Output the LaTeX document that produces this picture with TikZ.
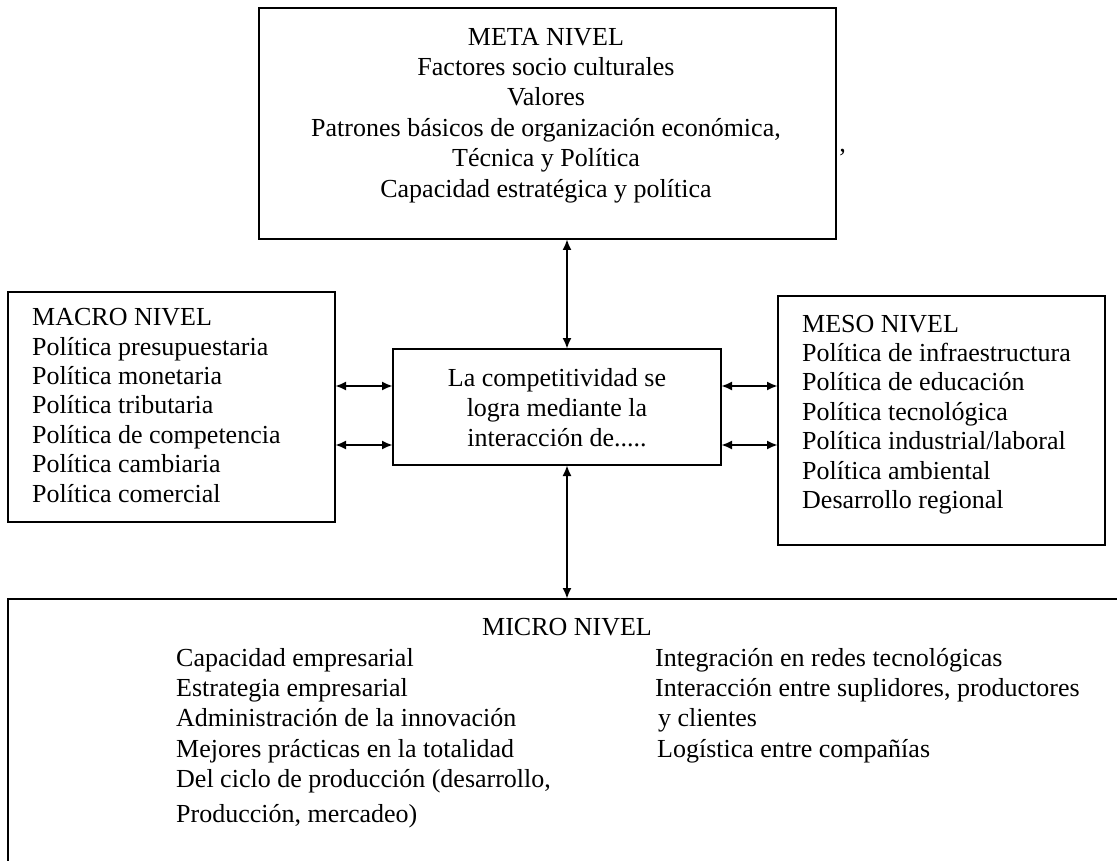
\documentclass[tikz,border=0pt]{standalone}
\usepackage{fontspec}
\setmainfont{Liberation Serif}
\usetikzlibrary{arrows.meta}

\begin{document}
\begin{tikzpicture}[x=1pt,y=-1pt,
  box/.style={draw,line width=1.8pt,inner sep=0pt,outer sep=0pt,anchor=north west},
  txt/.style={inner sep=0pt,align=left,anchor=north west,font=\fontsize{26}{29.4}\selectfont},
  link/.style={line width=2.5pt,{Latex[length=11pt,width=9pt]}-{Latex[length=11pt,width=9pt]}}]
  \useasboundingbox (0,0) rectangle (1117,861);
  \clip (0,0) rectangle (1117,861);

  \node[box, minimum width=577, minimum height=231] (meta) at (259,8) {};
  \node[box, minimum width=327, minimum height=230] (macro) at (8,292) {};
  \node[box, minimum width=328, minimum height=116] (hub) at (393,349) {};
  \node[box, minimum width=327, minimum height=249] (meso) at (778,296) {};
  \node[box, minimum width=1200, minimum height=400] (micro) at (8,599) {};

  \node[txt, align=center, anchor=north, font=\fontsize{26}{30.4}\selectfont] (metatxt) at (546,23.7)
    {\strut META NIVEL\\Factores socio culturales\\Valores\\
     Patrones básicos de organización económica,\\Técnica y Política\\
     Capacidad estratégica y política};
  \node[txt, anchor=base west] (quote) at (838,167) {’};
  \node[txt] (macrotxt) at (32,305)
    {\strut MACRO NIVEL\\Política presupuestaria\\Política monetaria\\Política tributaria\\
     Política de competencia\\Política cambiaria\\Política comercial};
  \node[txt, align=center, anchor=north, font=\fontsize{26}{30}\selectfont] (hubtxt) at (557,365)
    {\strut La competitividad se\\logra mediante la\\interacción de.....};
  \node[txt] (mesotxt) at (802,311.4)
    {\strut MESO NIVEL\\Política de infraestructura\\Política de educación\\Política tecnológica\\
     Política industrial/laboral\\Política ambiental\\Desarrollo regional};
  \node[txt, anchor=base] (microtit) at (567,635) {MICRO NIVEL};
  \node[txt, font=\fontsize{26}{30.4}\selectfont] (microa) at (176,644.7)
    {\strut Capacidad empresarial\\Estrategia empresarial\\Administración de la innovación\\
     Mejores prácticas en la totalidad\\Del ciclo de producción (desarrollo,\\[4pt]
     Producción, mercadeo)};
  \node[txt, font=\fontsize{26}{30.4}\selectfont] (microb) at (655,644.7)
    {\strut Integración en redes tecnológicas\\Interacción entre suplidores, productores\\
     \hspace{3pt}y clientes\\\hspace{2pt}Logística entre compañías};

  \coordinate (axis) at (567,0);
  \coordinate (rowa) at (0,386);
  \coordinate (rowb) at (0,445);
  \draw[link] (meta.south -| axis) -- (hub.north -| axis);
  \draw[link] (hub.south -| axis) -- (micro.north -| axis);
  \draw[link] (macro.east |- rowa) -- (hub.west |- rowa);
  \draw[link] (macro.east |- rowb) -- (hub.west |- rowb);
  \draw[link] (hub.east |- rowa) -- (meso.west |- rowa);
  \draw[link] (hub.east |- rowb) -- (meso.west |- rowb);
\end{tikzpicture}
\end{document}
